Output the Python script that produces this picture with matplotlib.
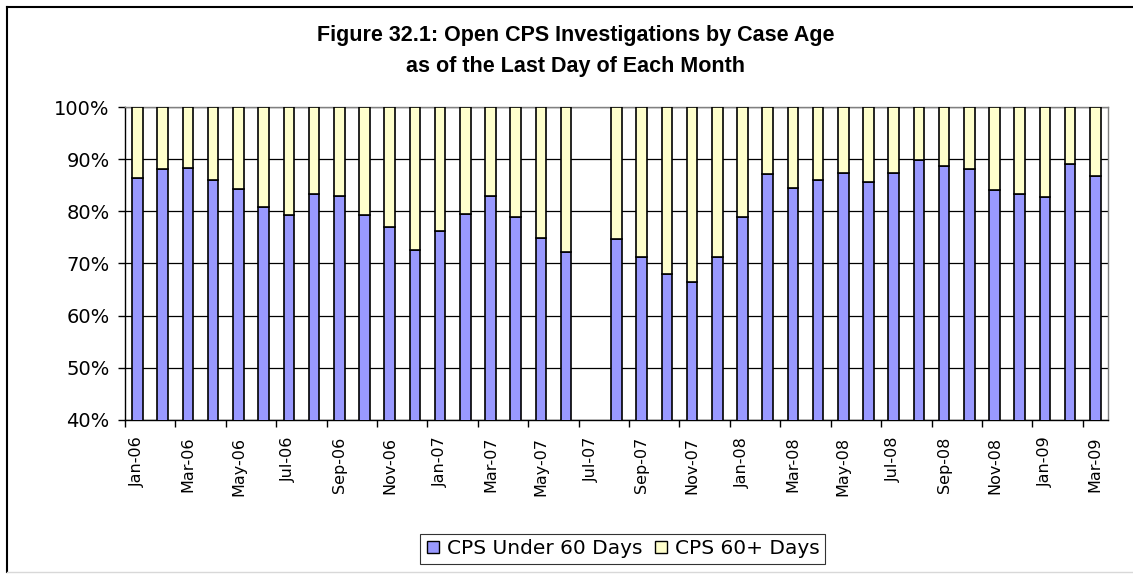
import matplotlib
matplotlib.use("Agg")
import matplotlib.pyplot as plt
import numpy as np
from matplotlib.lines import Line2D

months = ["Jan-06", "Feb-06", "Mar-06", "Apr-06", "May-06", "Jun-06", "Jul-06", "Aug-06",
          "Sep-06", "Oct-06", "Nov-06", "Dec-06", "Jan-07", "Feb-07", "Mar-07", "Apr-07",
          "May-07", "Jun-07", "Jul-07", "Aug-07", "Sep-07", "Oct-07", "Nov-07", "Dec-07",
          "Jan-08", "Feb-08", "Mar-08", "Apr-08", "May-08", "Jun-08", "Jul-08", "Aug-08",
          "Sep-08", "Oct-08", "Nov-08", "Dec-08", "Jan-09", "Feb-09", "Mar-09"]

# share of open investigations under 60 days (%); Jul-07 has no data
under_60 = [86.4, 88.1, 88.4, 86.1, 84.3, 80.9, 79.3, 83.3,
            83.0, 79.3, 77.0, 72.6, 76.3, 79.5, 83.0, 79.0,
            74.9, 72.2, np.nan, 74.6, 71.2, 67.9, 66.5, 71.2,
            79.0, 87.1, 84.4, 86.1, 87.4, 85.7, 87.4, 89.8,
            88.7, 88.1, 84.1, 83.4, 82.7, 89.1, 86.8]

under = np.array(under_60) / 100
over = 1 - under
x = np.arange(len(months))
blue = "#9999FF"
yellow = "#FFFFCC"

fig = plt.figure(figsize=(11.33, 5.75), dpi=100)
ax = fig.add_axes([0.1103, 0.2696, 0.8676, 0.5443])

ok = ~np.isnan(under)
ax.bar(x[ok], under[ok], width=0.42, color=blue, edgecolor="black", linewidth=1.2, zorder=3)
ax.bar(x[ok], over[ok], width=0.42, bottom=under[ok], color=yellow, edgecolor="black",
       linewidth=1.2, zorder=3)

ax.set_xlim(-0.5, len(months) - 0.5)
ax.set_ylim(0.4, 1.0)
yt = np.arange(0.4, 1.01, 0.1)
ax.set_yticks(yt)
ax.set_yticklabels([f"{int(round(v * 100))}%" for v in yt], fontsize=14, family="DejaVu Sans")
ax.yaxis.grid(True, color="black", linewidth=0.9, zorder=0)
ax.set_axisbelow(True)

ax.set_xticks(x[::2])
ax.set_xticklabels(months[::2], rotation=90, fontsize=11.5, family="DejaVu Sans")
ax.tick_params(axis="x", which="major", length=0, pad=12)
ax.set_xticks(np.arange(-0.5, len(months), 2), minor=True)
ax.tick_params(axis="x", which="minor", length=5, width=1, direction="out")
ax.tick_params(axis="y", length=5, width=1, direction="out", pad=6)

for s in ["left", "bottom"]:
    ax.spines[s].set_color("black")
    ax.spines[s].set_linewidth(1.0)
for s in ["top", "right"]:
    ax.spines[s].set_color("#808080")
    ax.spines[s].set_linewidth(1.0)

title_font = dict(ha="center", va="center", fontsize=15.5, fontweight="bold", family="Liberation Sans")
fig.text(576 / 1133, 1 - 35 / 575, "Figure 32.1: Open CPS Investigations by Case Age", **title_font)
fig.text(576 / 1133, 1 - 67 / 575, "as of the Last Day of Each Month", **title_font)

handles = [Line2D([], [], marker="s", linestyle="none", markersize=9,
                  markerfacecolor=c, markeredgecolor="black", markeredgewidth=1)
           for c in (blue, yellow)]
leg = fig.legend(handles, ["CPS Under 60 Days", "CPS 60+ Days"], loc="center left",
                 bbox_to_anchor=(410 / 1133, 1 - 549 / 575), ncol=2, frameon=True, fancybox=False,
                 edgecolor="black", handlelength=0.8, handletextpad=0.3,
                 columnspacing=0.5, borderpad=0.25, prop={"family": "DejaVu Sans", "size": 14.5})
leg.get_frame().set_linewidth(0.8)

# outer chart border
fig.add_artist(Line2D([7 / 1133, 7 / 1133], [1 - 7 / 575, 3 / 575], color="black", lw=1.5,
                      transform=fig.transFigure))
fig.add_artist(Line2D([7 / 1133, 1], [1 - 7 / 575, 1 - 7 / 575], color="black", lw=1.5,
                      transform=fig.transFigure))
fig.add_artist(Line2D([7 / 1133, 1], [3 / 575, 3 / 575], color="#d8d8d8", lw=1,
                      transform=fig.transFigure))

fig.savefig("out.png", dpi=100)
